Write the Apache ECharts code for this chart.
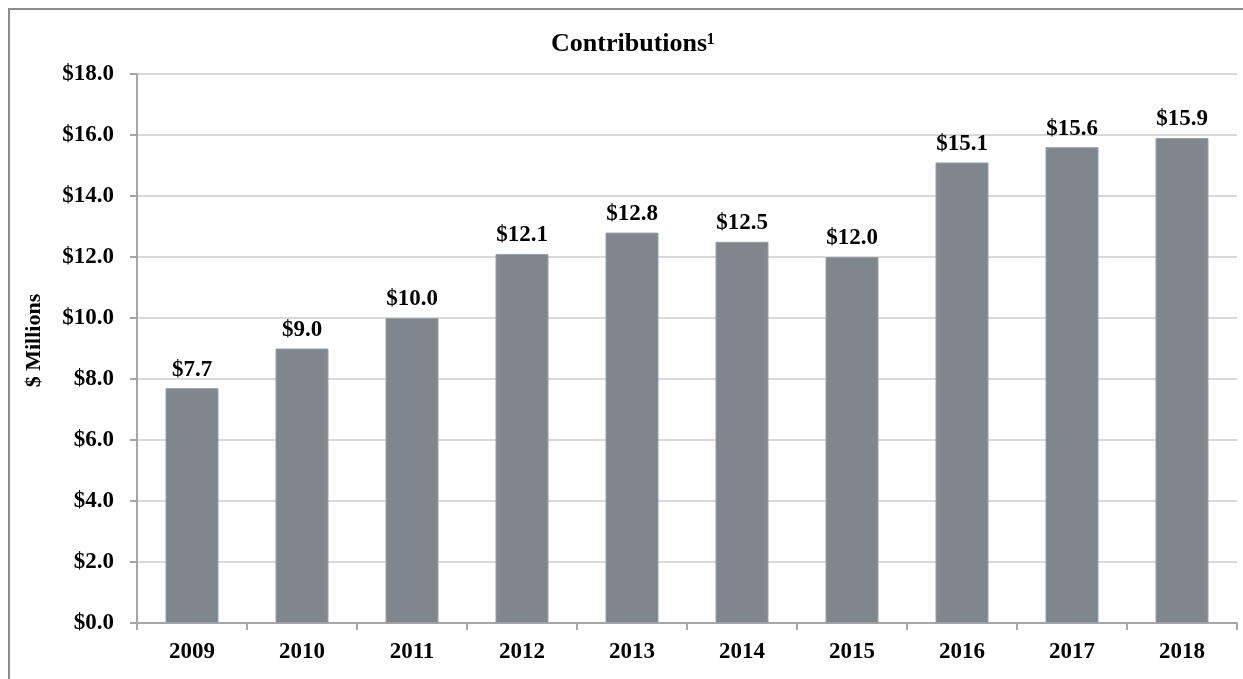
<!DOCTYPE html>
<html>
<head>
<meta charset="utf-8">
<script src="https://cdn.jsdelivr.net/npm/echarts@6/dist/echarts.min.js"></script>
<style>
html,body{margin:0;padding:0;background:#fff;}
#wrap{position:absolute;left:0;top:0;width:1243px;height:679px;}
#frame{position:absolute;left:8px;top:8px;width:1235px;height:671px;border-left:2px solid #8c8c8c;border-top:2px solid #8c8c8c;box-sizing:border-box;}
#chart{position:absolute;left:0;top:0;width:1243px;height:679px;}
</style>
</head>
<body>
<div id="wrap"><div id="frame"></div><div id="chart"></div></div>
<script>
const titleText = 'Contributions¹';
const yAxisName = '$ Millions';
const categories = ['2009','2010','2011','2012','2013','2014','2015','2016','2017','2018'];
const contributions = [7.7, 9.0, 10.0, 12.1, 12.8, 12.5, 12.0, 15.1, 15.6, 15.9];
const yMin = 0, yMax = 18, yStep = 2;

const font = '"Liberation Serif", "Times New Roman", serif';
const chart = echarts.init(document.getElementById('chart'), null, {renderer:'canvas'});
chart.setOption({
  backgroundColor: 'transparent',
  animation: false,
  title: {
    text: titleText, left: 628, top: 26, textAlign: 'center',
    textStyle: {fontFamily: font, fontWeight: 'bold', fontSize: 26, color: '#000'}
  },
  grid: {left: 137, right: 6, top: 74, bottom: 56, containLabel: false},
  xAxis: {
    type: 'category', data: categories,
    axisLine: {show: true, lineStyle: {color: '#a6a6a6', width: 2}},
    axisTick: {show: true, alignWithLabel: false, length: 7, lineStyle: {color: '#a6a6a6', width: 2}},
    axisLabel: {fontFamily: font, fontWeight: 'bold', fontSize: 23, color: '#000', margin: 18}
  },
  yAxis: {
    type: 'value', min: yMin, max: yMax, interval: yStep,
    name: yAxisName, nameLocation: 'middle', nameGap: 92, nameRotate: 90,
    nameTextStyle: {fontFamily: font, fontWeight: 'bold', fontSize: 22, color: '#000', padding: [0, 0, 0, 16]},
    axisLine: {show: true, lineStyle: {color: '#a6a6a6', width: 2}},
    axisTick: {show: true, length: 7, lineStyle: {color: '#a6a6a6', width: 2}},
    axisLabel: {fontFamily: font, fontWeight: 'bold', fontSize: 23, color: '#000', margin: 23,
      formatter: v => '$' + v.toFixed(1)},
    splitLine: {show: true, lineStyle: {color: '#d9d9d9', width: 2}}
  },
  series: [{
    type: 'bar', data: contributions, barWidth: 53,
    itemStyle: {color: '#80868e', borderColor: '#9aa0a6', borderWidth: 1},
    label: {show: true, position: 'top', distance: 7, fontFamily: font, fontWeight: 'bold', fontSize: 23, color: '#000',
      formatter: p => '$' + p.value.toFixed(1)}
  }]
});
</script>
</body>
</html>
